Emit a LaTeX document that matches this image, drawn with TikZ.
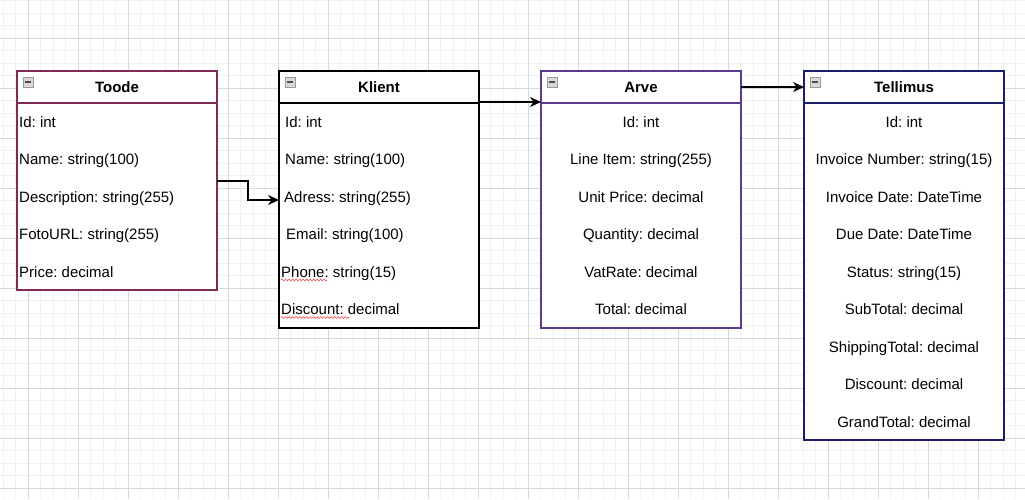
\documentclass[tikz,border=0pt]{standalone}
\usepackage{fontspec}
\setmainfont{Liberation Sans}
\usetikzlibrary{positioning,arrows.meta,decorations.pathmorphing}
\frenchspacing

\definecolor{toodecol}{HTML}{7C2C55}
\definecolor{arvecol}{HTML}{5C3A8E}
\definecolor{tellcol}{HTML}{1E1E68}
\definecolor{minorcol}{HTML}{F0F0F0}
\definecolor{majorcol}{HTML}{D8D8D8}

\tikzset{
  minorline/.style={minorcol, line width=0.7pt},
  majorline/.style={majorcol, line width=0.9pt},
  head/.style={draw, fill=white, line width=1.5pt, minimum width=200pt, minimum height=32pt, outer sep=0pt,
    anchor=north west, inner sep=0pt, font=\fontsize{15}{18}\selectfont\bfseries},
  body/.style={draw, fill=white, line width=1.5pt, minimum width=200pt, outer sep=0pt, anchor=north west, inner sep=0pt},
  field/.style={font=\fontsize{15}{18}\selectfont, inner sep=0pt},
  fold/.style={draw=gray!80, fill=gray!30, line width=0.6pt, minimum width=10pt, minimum height=10pt, inner sep=0pt,
    path picture={\draw[black!70, line width=1.5pt] ([xshift=1.8pt]path picture bounding box.west) -- ([xshift=-1.8pt]path picture bounding box.east);}},
  link/.style={-{Stealth[length=11pt,width=10pt,inset=3.5pt]}, line width=1.4pt},
  squiggle/.style={red!75, line width=0.6pt, decorate, decoration={snake, amplitude=0.9pt, segment length=3.5pt}}
}

\begin{document}
\begin{tikzpicture}[x=1pt, y=-1pt]
\useasboundingbox (0,0) rectangle (1025,499);

% background grid
\fill[white] (0,0) rectangle (1025,499);
\foreach \k in {0,...,81} \draw[minorline] ({3+12.5*\k},0) -- ({3+12.5*\k},499);
\foreach \k in {0,...,39} \draw[minorline] (0,{0.5+12.5*\k}) -- (1025,{0.5+12.5*\k});
\foreach \k in {0,...,20} \draw[majorline] ({28+50*\k},0) -- ({28+50*\k},499);
\foreach \k in {0,...,9} \draw[majorline] (0,{38+50*\k}) -- (1025,{38+50*\k});

% Toode
\node[head, draw=toodecol] (toodehead) at (17,71) {Toode};
\node[body, draw=toodecol, minimum height=187pt] (toodebody) at (toodehead.south west) {};
\node[fold] at ([shift={(11,11)}]toodehead.north west) {};
\foreach \t [count=\i from 0] in {Id: int, Name: string(100), Description: string(255), FotoURL: string(255), Price: decimal}
  \node[field, anchor=base west] (toode-\i) at (19,{127+37.5*\i}) {\t};

% Klient
\node[head] (klienthead) at (279,71) {Klient};
\node[body, minimum height=225pt] (klientbody) at (klienthead.south west) {};
\node[fold] at ([shift={(11,11)}]klienthead.north west) {};
\foreach \x/\t [count=\i from 0] in {285/Id: int, 285/Name: string(100), 284/Adress: string(255), 286/Email: string(100), 281/Phone: string(15), 281/Discount: decimal}
  \node[field, anchor=base west] (klient-\i) at (\x,{127+37.5*\i}) {\t};
\draw[squiggle] ([yshift=-3pt]klient-4.base west) -- ++(46,0);
\draw[squiggle] ([yshift=-3pt]klient-5.base west) -- ++(68,0);

% Arve
\node[head, draw=arvecol] (arvehead) at (541,71) {Arve};
\node[body, draw=arvecol, minimum height=225pt] (arvebody) at (arvehead.south west) {};
\node[fold] at ([shift={(11,11)}]arvehead.north west) {};
\foreach \t [count=\i from 0] in {Id: int, Line Item: string(255), Unit Price: decimal, Quantity: decimal, VatRate: decimal, Total: decimal}
  \node[field, anchor=base] (arve-\i) at (641,{127+37.5*\i}) {\t};

% Tellimus
\node[head, draw=tellcol] (tellhead) at (804,71) {Tellimus};
\node[body, draw=tellcol, minimum height=337pt] (tellbody) at (tellhead.south west) {};
\node[fold] at ([shift={(11,11)}]tellhead.north west) {};
\foreach \t [count=\i from 0] in {Id: int, Invoice Number: string(15), Invoice Date: DateTime, Due Date: DateTime, Status: string(15), SubTotal: decimal, ShippingTotal: decimal, Discount: decimal, GrandTotal: decimal}
  \node[field, anchor=base] (tell-\i) at (904,{127+37.5*\i}) {\t};

% links
\draw[link] ([yshift=15.5pt]toodebody.east) -- ++(31,0) |- ([yshift=15.5pt]klientbody.west);
\draw[link] ([yshift=1pt]klienthead.south east) -- ([yshift=1pt]arvehead.south west);
\draw[link] (arvehead.east) -- (tellhead.west);

\end{tikzpicture}
\end{document}
